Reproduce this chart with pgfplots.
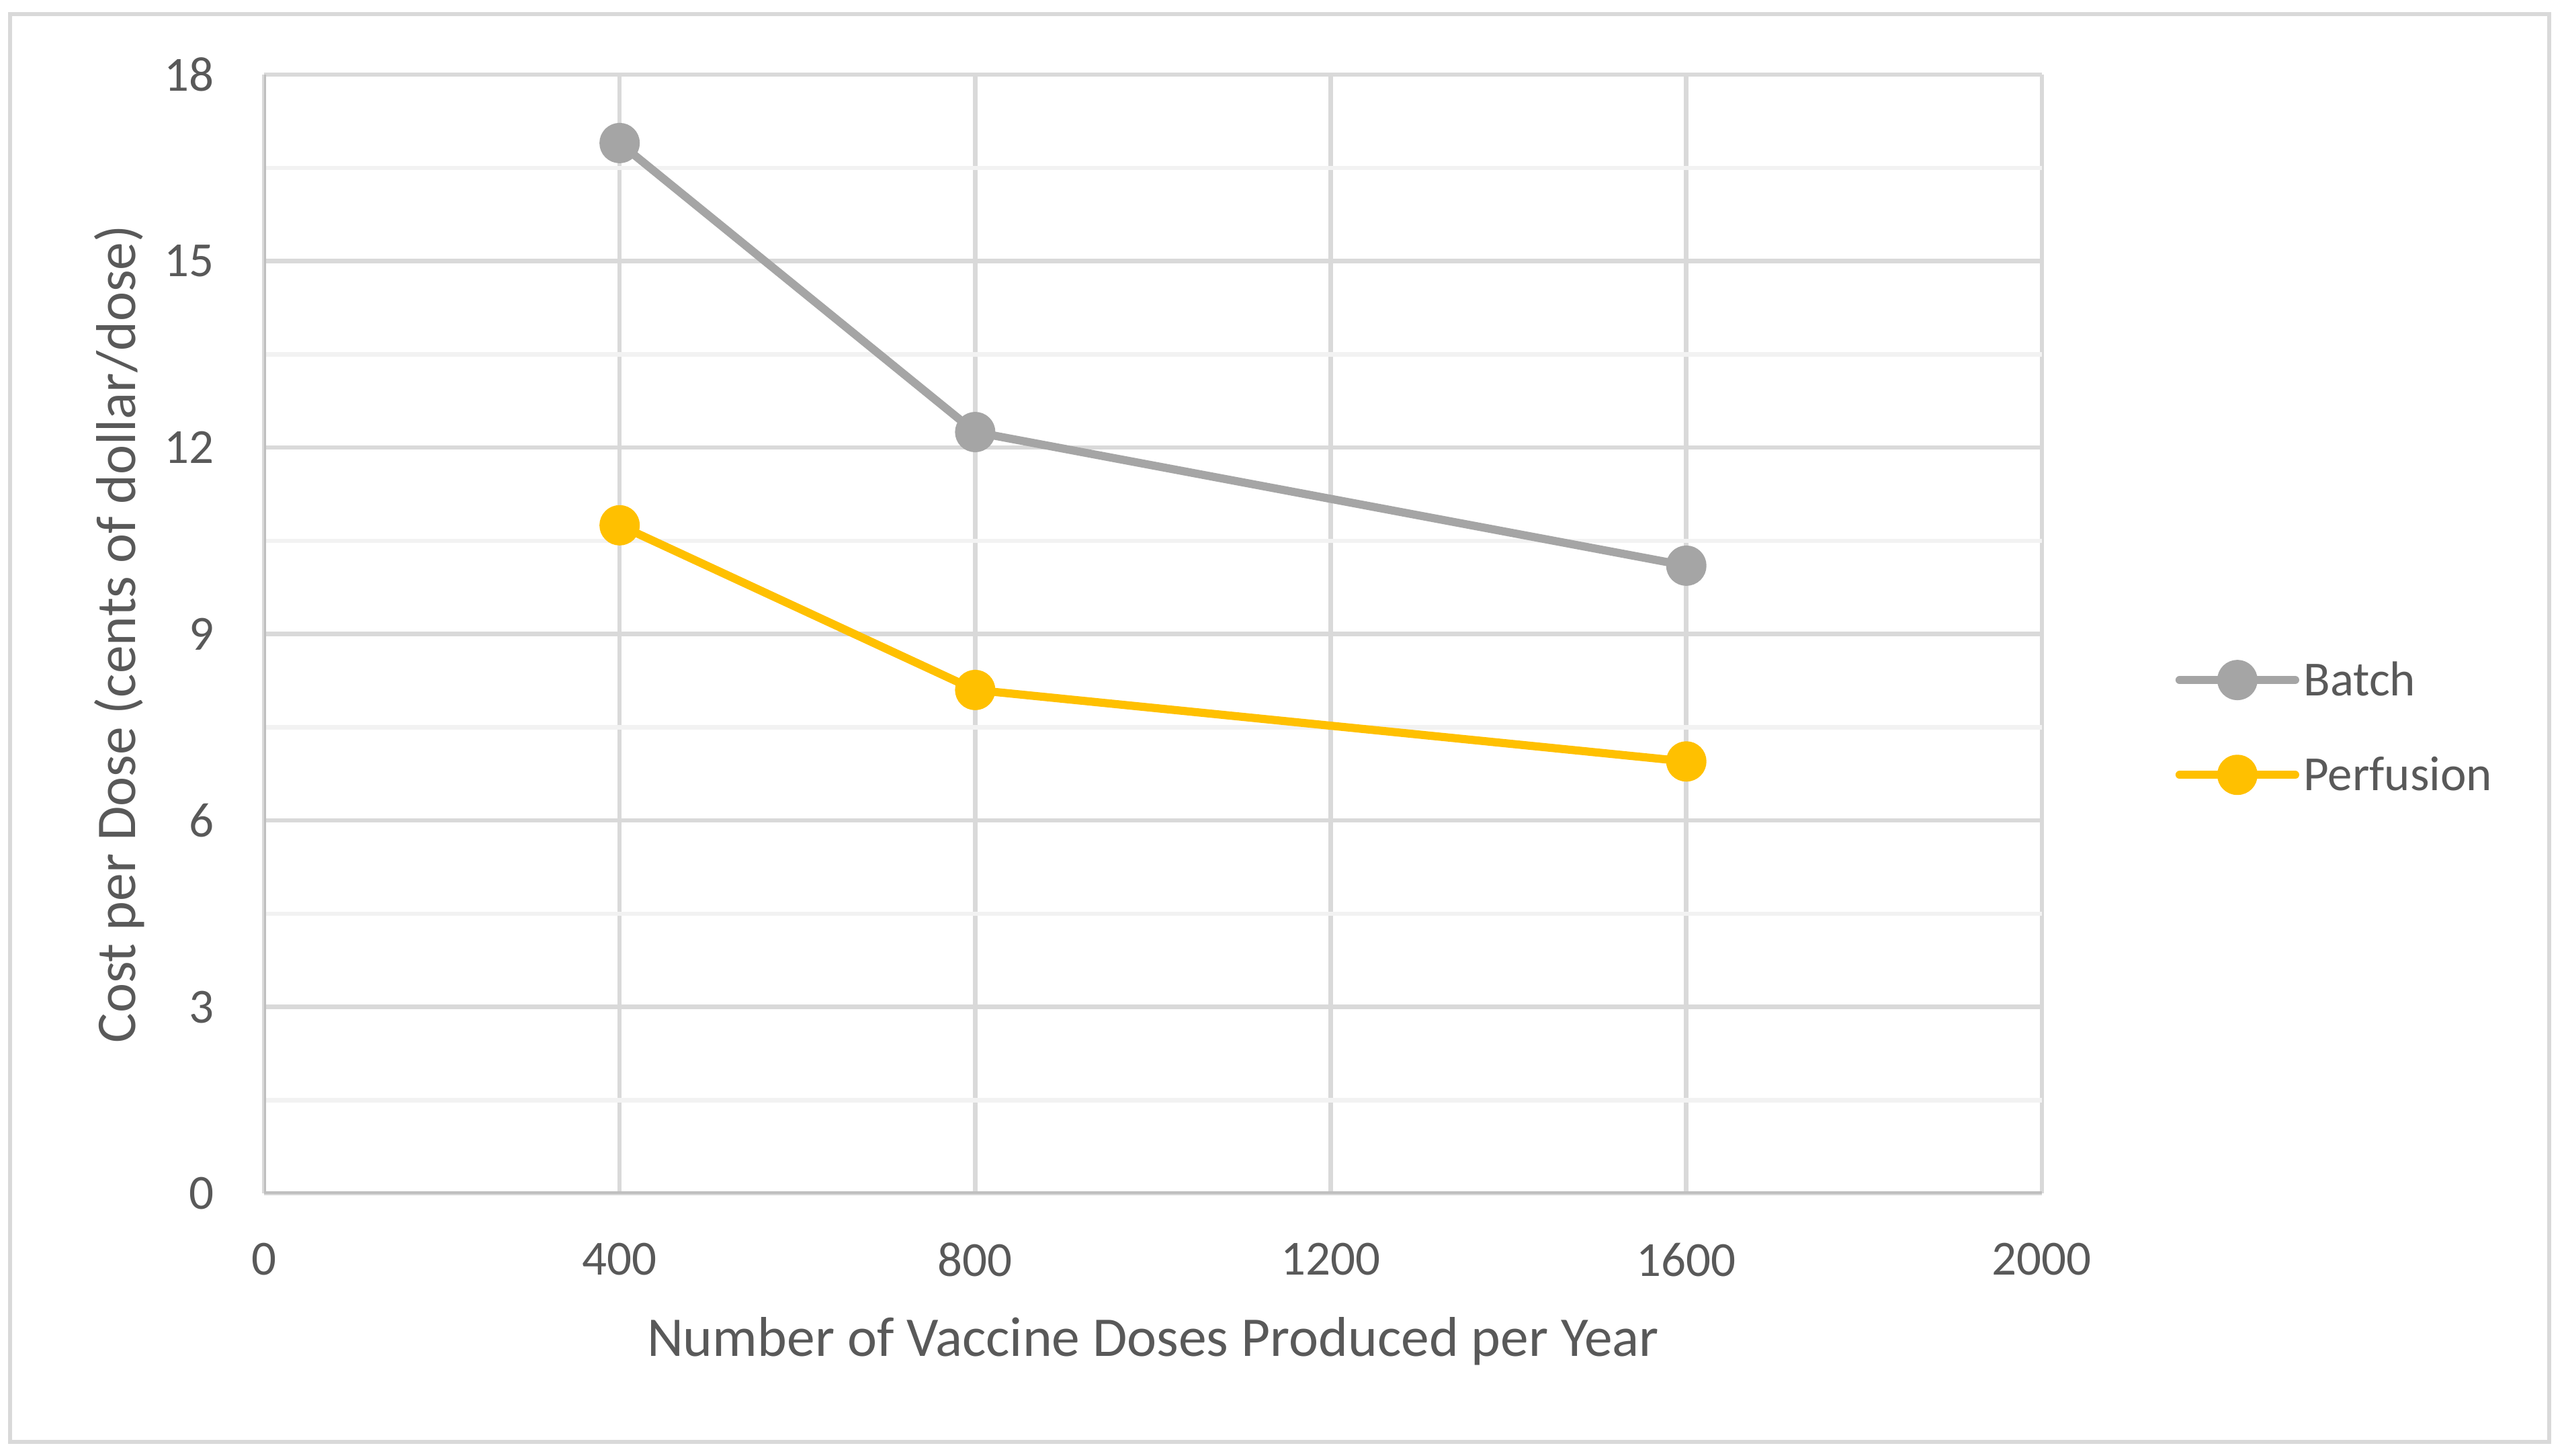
\documentclass[border=0pt]{standalone}
\usepackage{fontspec}
\setmainfont{Carlito}
\usepackage{pgfplots}
\pgfplotsset{compat=1.18}
\definecolor{txtgray}{HTML}{595959}
\definecolor{gridgray}{HTML}{D9D9D9}
\definecolor{minorgray}{HTML}{F2F2F2}
\definecolor{axisgray}{HTML}{BFBFBF}
\definecolor{batchgray}{HTML}{A5A5A5}
\definecolor{perfgold}{HTML}{FFC000}
\begin{document}
\begin{tikzpicture}
\path[use as bounding box] (-48.46pt,-48.09pt) rectangle ++(470.9pt,267.1pt);
\fill[white] (-48.46pt,-48.09pt) rectangle ++(470.9pt,267.1pt);
\draw[gridgray, line width=0.75pt] (-46.61pt,-45.62pt) rectangle (419.34pt,216.41pt);
\begin{axis}[
  at={(0,0)}, anchor=south west,
  scale only axis, width=326.25pt, height=205.3pt,
  xmin=0, xmax=2000, ymin=0, ymax=18,
  xtick={0,400,...,2000}, ytick={0,3,...,18},
  minor ytick={1.5,4.5,...,16.5},
  xmajorgrids, ymajorgrids, yminorgrids,
  major grid style={gridgray, line width=0.8pt},
  minor grid style={minorgray, line width=0.8pt},
  axis line style={draw=none},
  major tick length=0pt, minor tick length=0pt,
  tick style={draw=none},
  /pgf/number format/assume math mode=true,
  /pgf/number format/set thousands separator={},
  tick label style={font=\fontsize{9}{10}\selectfont, text=txtgray, inner sep=0pt},
  yticklabel style={anchor=east, xshift=-9pt},
  xticklabel style={anchor=north, yshift=-8.9pt},
  xlabel={Number of Vaccine Doses Produced per Year},
  ylabel={Cost per Dose (cents of dollar/dose)},
  every axis x label/.style={at={(axis description cs:0.5,0)}, yshift=-27.1pt, anchor=center,
    font=\fontsize{10.3}{12}\selectfont, text=txtgray, inner sep=0pt},
  every axis y label/.style={at={(axis description cs:0,0.5)}, xshift=-26.5pt, rotate=90, anchor=center,
    font=\fontsize{10.3}{12}\selectfont, text=txtgray, inner sep=0pt},
  legend style={at={(1.0752,0.4165)}, anchor=west, draw=none, fill=none, inner sep=0pt, outer sep=0pt,
    row sep=11.5pt, column sep=0.8pt, font=\fontsize{9}{10}\selectfont, text=txtgray,
    nodes={inner sep=0pt, text height=5.7pt, text depth=0pt}},
  legend cell align=left,
  legend image code/.code={
    \draw[mark repeat=2, mark phase=2, #1] plot coordinates {(0pt,0pt) (10.6pt,0pt) (21.2pt,0pt)};
  },
]
\draw[axisgray, line width=0.8pt] (rel axis cs:0,1) -- (rel axis cs:0,0) -- (rel axis cs:1,0);
\addplot[batchgray, line width=1.5pt, line cap=round, line join=round, mark=*, mark size=2.95pt,
  mark options={solid, fill=batchgray, draw=none}] coordinates {(400,16.9) (800,12.25) (1600,10.1)};
\addlegendentry{Batch}
\addplot[perfgold, line width=1.5pt, line cap=round, line join=round, mark=*, mark size=2.95pt,
  mark options={solid, fill=perfgold, draw=none}] coordinates {(400,10.75) (800,8.1) (1600,6.95)};
\addlegendentry{Perfusion}
\end{axis}
\end{tikzpicture}
\end{document}
